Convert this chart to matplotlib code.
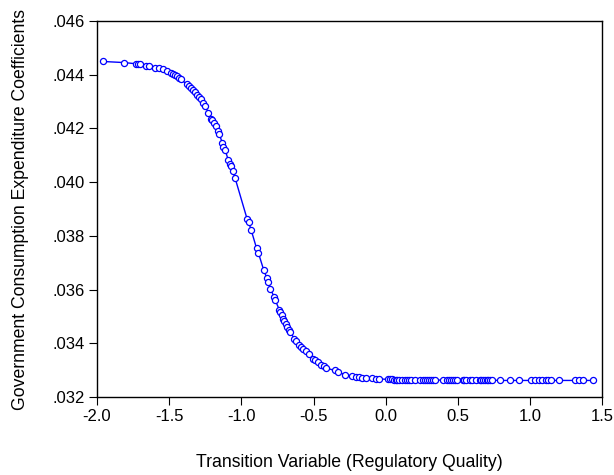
import matplotlib
matplotlib.use("Agg")
import matplotlib.pyplot as plt
from matplotlib.ticker import FuncFormatter

plt.rcParams['font.family'] = ['Liberation Sans', 'DejaVu Sans']
plt.rcParams['axes.unicode_minus'] = False

# transition variable (x) and estimated coefficient (y)
regq = [-1.959, -1.815, -1.733, -1.719, -1.700, -1.664, -1.637, -1.596, -1.569, -1.542,
        -1.514, -1.487, -1.473, -1.460, -1.446, -1.433, -1.419, -1.378, -1.364, -1.351,
        -1.337, -1.323, -1.310, -1.296, -1.283, -1.269, -1.255, -1.228, -1.209, -1.201,
        -1.187, -1.173, -1.160, -1.154, -1.132, -1.124, -1.113, -1.092, -1.078, -1.070,
        -1.059, -1.043, -0.961, -0.950, -0.933, -0.895, -0.882, -0.846, -0.824, -0.813,
        -0.800, -0.772, -0.767, -0.737, -0.731, -0.721, -0.710, -0.704, -0.693, -0.682,
        -0.669, -0.661, -0.633, -0.622, -0.601, -0.587, -0.573, -0.554, -0.532, -0.505,
        -0.491, -0.472, -0.451, -0.431, -0.415, -0.355, -0.333, -0.279, -0.232, -0.205,
        -0.186, -0.164, -0.137, -0.096, -0.069, -0.050,
        0.013, 0.027, 0.041, 0.054, 0.068, 0.081, 0.095, 0.109, 0.136, 0.150,
        0.163, 0.177, 0.204, 0.240, 0.259, 0.272, 0.286, 0.300, 0.313, 0.327,
        0.341, 0.395, 0.422, 0.436, 0.450, 0.463, 0.477, 0.491, 0.532, 0.540,
        0.559, 0.586, 0.600, 0.627, 0.654, 0.660, 0.676, 0.687, 0.698, 0.709,
        0.723, 0.736, 0.791, 0.859, 0.922, 1.009, 1.036, 1.064, 1.085, 1.107,
        1.123, 1.145, 1.200, 1.309, 1.336, 1.363, 1.432]

coef = [.04449, .04445, .04441, .04440, .04439, .04434, .04432, .04426, .04424, .04420,
        .04414, .04406, .04403, .04399, .04394, .04388, .04383, .04364, .04357, .04350,
        .04342, .04334, .04326, .04317, .04310, .04295, .04285, .04259, .04236, .04230,
        .04220, .04208, .04190, .04180, .04146, .04131, .04121, .04084, .04069, .04060,
        .04041, .04014, .03864, .03852, .03823, .03754, .03736, .03674, .03644, .03628,
        .03603, .03572, .03562, .03525, .03516, .03504, .03491, .03483, .03473, .03461,
        .03448, .03442, .03417, .03409, .03395, .03386, .03380, .03370, .03359, .03343,
        .03337, .03330, .03320, .03314, .03309, .03299, .03292, .03284, .03278, .03274,
        .03273, .03272, .03271, .03270, .03268, .03268,
        .03266, .03266, .03266, .03265, .03265, .03265, .03265, .03265, .03265, .03264,
        .03264, .03264, .03264, .03264, .03264, .03264, .03264, .03264, .03264, .03264,
        .03264, .03263, .03263, .03263, .03263, .03263, .03263, .03263, .03263, .03263,
        .03263, .03263, .03263, .03263, .03263, .03263, .03263, .03263, .03263, .03263,
        .03263, .03263, .03262, .03262, .03262, .03262, .03262, .03262, .03262, .03262,
        .03262, .03262, .03262, .03262, .03262, .03262, .03262]

fig = plt.figure(figsize=(6.14, 4.75), dpi=100)
ax = fig.add_axes([0.158, 0.164, 0.823, 0.792])

ax.plot(regq, coef, color='#0000ff', lw=1.0, marker='o', markersize=4.4,
        markerfacecolor='white', markeredgecolor='#0000ff', markeredgewidth=0.9)

ax.set_xlim(-2.0, 1.5)
ax.set_ylim(0.032, 0.046)
ax.set_xticks([-2.0, -1.5, -1.0, -0.5, 0.0, 0.5, 1.0, 1.5])
ax.set_yticks([0.032, 0.034, 0.036, 0.038, 0.040, 0.042, 0.044, 0.046])
ax.xaxis.set_major_formatter(FuncFormatter(lambda v, p: '%.1f' % v))
ax.yaxis.set_major_formatter(FuncFormatter(lambda v, p: ('%.3f' % v).lstrip('0')))
ax.tick_params(direction='out', length=5.5, width=0.8, labelsize=12, colors='black', pad=3)

for s in ax.spines.values():
    s.set_linewidth(1.0)
    s.set_color('black')

ax.set_xlabel('Transition Variable (Regulatory Quality)', fontsize=12.7, labelpad=22)
ax.set_ylabel('Government Consumption Expenditure Coefficients', fontsize=12.7, labelpad=17)

fig.savefig('out.png', dpi=100)
